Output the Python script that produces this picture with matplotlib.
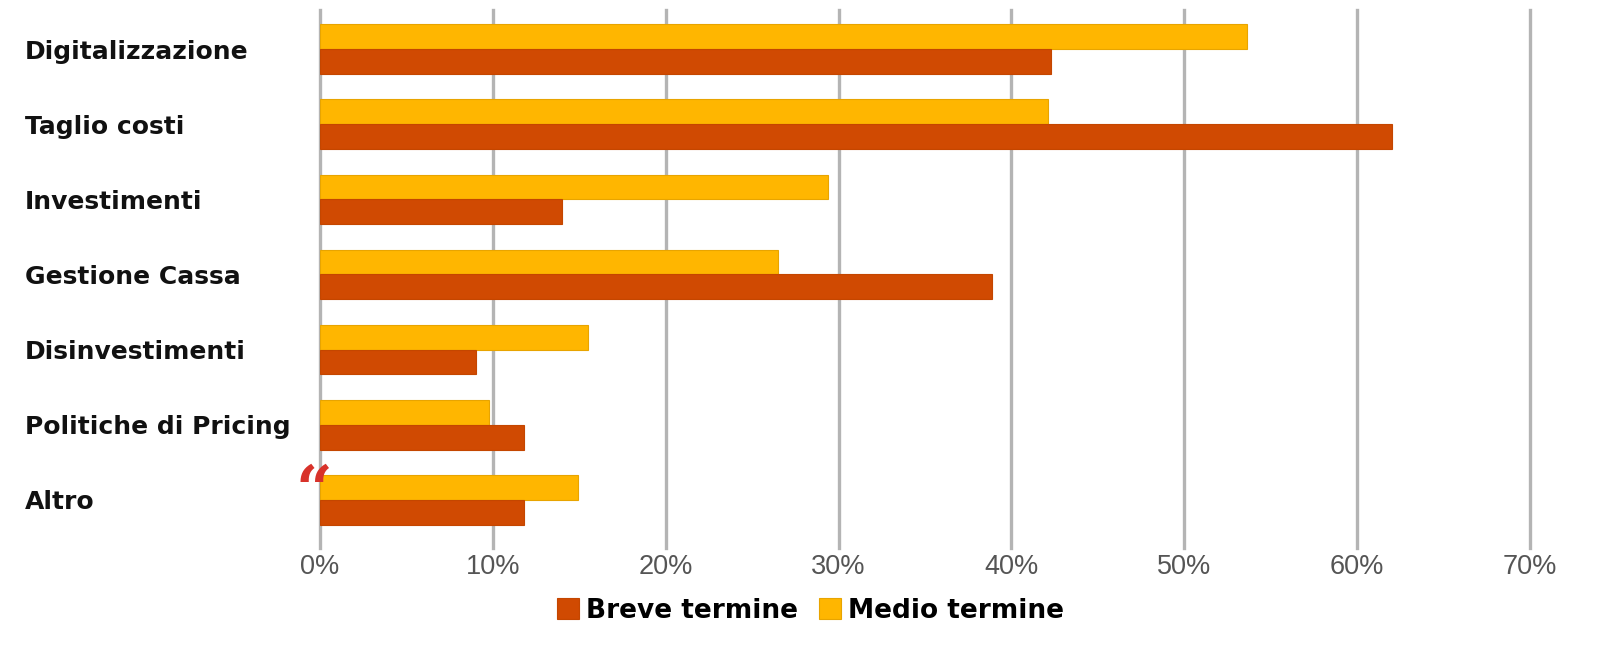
import matplotlib.pyplot as plt
import numpy as np

plt.rcParams['font.family'] = ['Liberation Sans', 'DejaVu Sans']

categories = ['Digitalizzazione', 'Taglio costi', 'Investimenti', 'Gestione Cassa',
              'Disinvestimenti', 'Politiche di Pricing', 'Altro']
breve = [42.3, 62.0, 14.0, 38.9, 9.0, 11.8, 11.8]
medio = [53.6, 42.1, 29.4, 26.5, 15.5, 9.8, 14.9]
xticks = [0, 10, 20, 30, 40, 50, 60, 70]

c_breve = '#D04A02'
c_medio = '#FFB600'

fig = plt.figure(figsize=(16.21, 6.47), dpi=100)
ax = fig.add_axes([320 / 1621, 1 - 548 / 647, (1530 - 320) / 1621, (548 - 10) / 647])

y = np.arange(len(categories))
h = 0.33
ax.barh(y - h / 2, medio, height=h, color=c_medio, edgecolor='#e8a400', lw=0.8,
        label='Medio termine', zorder=3)
ax.barh(y + h / 2, breve, height=h, color=c_breve, edgecolor='#c44600', lw=0.8,
        label='Breve termine', zorder=3)

ax.set_xlim(0, 70)
ax.set_ylim(6.64, -0.52)
ax.set_xticks(xticks)
ax.set_xticklabels([f'{t}%' for t in xticks], color='#555555', fontsize=19.5)
ax.set_yticks(y)
ax.set_yticklabels(categories, fontsize=18, fontweight='bold', color='#111111',
                   family='DejaVu Sans')
for lab in ax.get_yticklabels():
    lab.set_horizontalalignment('left')
ax.tick_params(axis='y', length=0, pad=(320 - 25) * 0.72)
ax.tick_params(axis='x', length=0, pad=4)

for s in ax.spines.values():
    s.set_visible(False)
ax.grid(axis='x', color='#b4b4b4', lw=2.4, zorder=0)
for gl in ax.get_xgridlines():
    gl.set_clip_on(False)

handles, labels = ax.get_legend_handles_labels()
leg = fig.legend(handles[::-1], labels[::-1], loc='center', bbox_to_anchor=(0.5, 1 - 611 / 647),
                 ncol=2, frameon=False, handlelength=0.85, handleheight=0.85,
                 handletextpad=0.25, columnspacing=0.8,
                 prop={'size': 19, 'weight': 'bold', 'family': 'DejaVu Sans'})

fig.text(314 / 1621, 1 - 494 / 647, '\u201c', color='#d8322a', fontsize=46,
         family='DejaVu Serif', fontweight='bold', ha='center', va='center')

fig.savefig('out.png', dpi=100)
